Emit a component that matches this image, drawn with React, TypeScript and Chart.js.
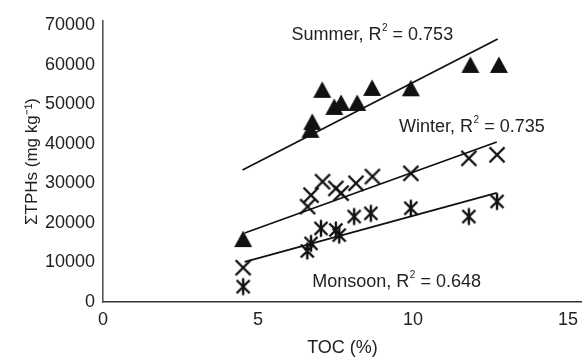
import React, { useEffect, useRef } from "react";
import { Chart, registerables } from "chart.js";

Chart.register(...registerables);

// ---- data ----
const summerToc = [4.52, 6.69, 6.75, 7.07, 7.46, 7.68, 8.2, 8.68, 9.93, 11.85, 12.77];
const summerTph = [15900, 43500, 45500, 53600, 49300, 50300, 50300, 54100, 54000, 59900, 59900];

const winterToc = [4.52, 6.6, 6.71, 7.08, 7.51, 7.68, 8.16, 8.69, 9.93, 11.8, 12.71];
const winterTph = [8670, 24100, 27000, 30400, 28700, 27500, 30000, 31700, 32500, 36300, 37200];

const monsoonToc = [4.52, 6.59, 6.71, 7.03, 7.51, 7.62, 8.1, 8.64, 9.93, 11.8, 12.71];
const monsoonTph = [3870, 12900, 14800, 18600, 18200, 16900, 21600, 22400, 23700, 21600, 25400];

const summerFitToc = [4.5, 12.73];
const summerFitTph = [33360, 66460];
const winterFitToc = [4.57, 12.7];
const winterFitTph = [17440, 40430];
const monsoonFitToc = [4.57, 12.7];
const monsoonFitTph = [10110, 27550];

const xTickValues = [0, 5, 10, 15];
const yTickValues = [0, 10000, 20000, 30000, 40000, 50000, 60000, 70000];

const seriesNames = ["Summer", "Winter", "Monsoon"];
const r2Values = ["0.753", "0.735", "0.648"];
const labelToc = [6.08, 9.55, 6.75];
const labelTph = [67480, 44230, 5050];

const xTitle = "TOC (%)";
const yTitle = "ΣTPHs (mg kg⁻¹)";

const FONT = "'Liberation Sans', Arial, Helvetica, sans-serif";
const INK = "#222";

function toPoints(xs: number[], ys: number[]) {
  return xs.map((x, i) => ({ x, y: ys[i] }));
}

function makeMarker(kind: "tri" | "x" | "ast"): HTMLCanvasElement {
  const c = document.createElement("canvas");
  c.width = 20;
  c.height = 20;
  const g = c.getContext("2d")!;
  const m = 10;
  if (kind === "tri") {
    g.fillStyle = "#111";
    g.beginPath();
    g.moveTo(m, m - 8.5);
    g.lineTo(m + 9, m + 8);
    g.lineTo(m - 9, m + 8);
    g.closePath();
    g.fill();
  } else {
    g.strokeStyle = "#111";
    g.lineWidth = 2.4;
    const h = kind === "x" ? 7.5 : 6.5;
    g.beginPath();
    g.moveTo(m - h, m - h);
    g.lineTo(m + h, m + h);
    g.moveTo(m + h, m - h);
    g.lineTo(m - h, m + h);
    if (kind === "ast") {
      g.moveTo(m, m - 8.5);
      g.lineTo(m, m + 8.5);
    }
    g.stroke();
  }
  return c;
}

const labelPlugin = {
  id: "r2labels",
  afterDatasetsDraw(chart: any) {
    const { ctx, scales } = chart;
    ctx.save();
    ctx.fillStyle = INK;
    ctx.textBaseline = "middle";
    ctx.textAlign = "left";
    seriesNames.forEach((name, i) => {
      let x = scales.x.getPixelForValue(labelToc[i]);
      const y = scales.y.getPixelForValue(labelTph[i]);
      ctx.font = `18px ${FONT}`;
      const a = `${name}, R`;
      ctx.fillText(a, x, y);
      x += ctx.measureText(a).width + 0.5;
      ctx.font = `10px ${FONT}`;
      ctx.fillText("2", x, y - 7);
      x += ctx.measureText("2").width;
      ctx.font = `18px ${FONT}`;
      ctx.fillText(` = ${r2Values[i]}`, x, y);
    });
    ctx.restore();
  },
};

export default function App() {
  const ref = useRef<HTMLCanvasElement | null>(null);

  useEffect(() => {
    document.body.style.margin = "0";
    const canvas = ref.current;
    if (!canvas) return;
    const tri = makeMarker("tri");
    const xm = makeMarker("x");
    const ast = makeMarker("ast");

    const lineDs = (xs: number[], ys: number[]) => ({
      data: toPoints(xs, ys),
      showLine: true,
      borderColor: "#111",
      borderWidth: 1.8,
      pointRadius: 0,
      pointHoverRadius: 0,
      fill: false,
    });

    const chart = new Chart(canvas, {
      type: "scatter",
      data: {
        datasets: [
          lineDs(summerFitToc, summerFitTph),
          lineDs(winterFitToc, winterFitTph),
          lineDs(monsoonFitToc, monsoonFitTph),
          { data: toPoints(summerToc, summerTph), pointStyle: tri as any, pointRadius: 10 },
          { data: toPoints(winterToc, winterTph), pointStyle: xm as any, pointRadius: 10 },
          { data: toPoints(monsoonToc, monsoonTph), pointStyle: ast as any, pointRadius: 10 },
        ],
      },
      options: {
        animation: false,
        responsive: false,
        devicePixelRatio: 1,
        layout: { autoPadding: false, padding: { top: 21, right: 0, left: 0, bottom: 0 } },
        plugins: { legend: { display: false }, tooltip: { enabled: false } },
        scales: {
          x: {
            type: "linear",
            min: 0,
            max: 15.45,
            afterBuildTicks: (s: any) => {
              s.ticks = xTickValues.map((v) => ({ value: v }));
            },
            afterFit: (s: any) => {
              s.height = 58;
              s.paddingLeft = 0;
              s.paddingRight = 0;
            },
            ticks: {
              font: { family: FONT, size: 18 },
              color: INK,
              padding: 7,
              callback: (v: any) => String(v),
            },
            grid: { display: false, drawTicks: false },
            border: { display: true, color: "#333", width: 1.6 },
            title: {
              display: true,
              text: xTitle,
              font: { family: FONT, size: 18 },
              color: INK,
              padding: { top: 0, bottom: 1 },
            },
          },
          y: {
            type: "linear",
            min: 0,
            max: 71000,
            afterBuildTicks: (s: any) => {
              s.ticks = yTickValues.map((v) => ({ value: v }));
            },
            afterFit: (s: any) => {
              s.width = 103;
              s.paddingTop = 0;
              s.paddingBottom = 0;
            },
            ticks: {
              font: { family: FONT, size: 18 },
              color: INK,
              padding: 8,
              callback: (v: any) => String(v),
            },
            grid: { display: false, drawTicks: false },
            border: { display: true, color: "#555", width: 1.6 },
            title: {
              display: true,
              text: yTitle,
              font: { family: FONT, size: 17 },
              color: INK,
              padding: { top: 22, bottom: 0 },
            },
          },
        },
      },
      plugins: [labelPlugin],
    } as any);

    return () => chart.destroy();
  }, []);

  return (
    <div style={{ width: 582, height: 360, background: "#fff" }}>
      <canvas ref={ref} width={582} height={360} style={{ width: 582, height: 360, display: "block" }} />
    </div>
  );
}
